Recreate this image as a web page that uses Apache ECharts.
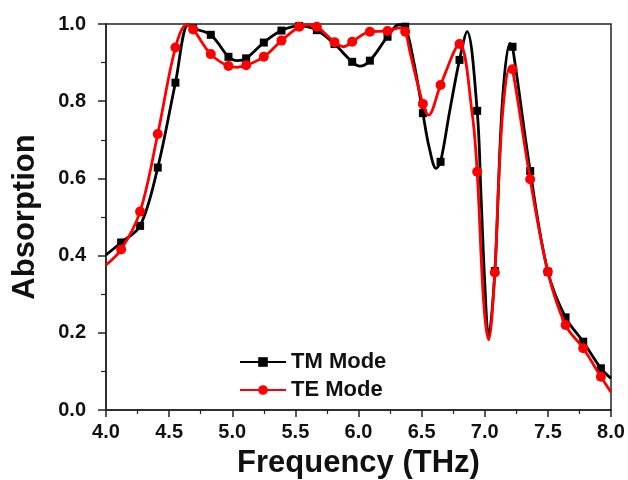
<!DOCTYPE html>
<html>
<head>
<meta charset="utf-8">
<script src="https://cdn.jsdelivr.net/npm/echarts@6/dist/echarts.min.js"></script>
<style>
html,body{margin:0;padding:0;background:#fff;}
#chart{width:628px;height:480px;}
</style>
</head>
<body>
<div id="chart"></div>
<script>
// Marker points
var markFreq = [4.12,4.27,4.41,4.55,4.69,4.83,4.97,5.11,5.25,5.39,5.53,5.67,5.81,5.95,6.09,6.23,6.37,6.51,6.65,6.80,6.94,7.08,7.22,7.36,7.50,7.64,7.78,7.92];
var tmMarkAbs = [0.434,0.477,0.628,0.848,0.989,0.972,0.915,0.911,0.952,0.983,0.995,0.984,0.948,0.902,0.905,0.967,0.993,0.769,0.643,0.907,0.775,0.360,0.941,0.619,0.358,0.240,0.177,0.108];
var teMarkAbs = [0.416,0.514,0.715,0.939,0.986,0.922,0.891,0.893,0.915,0.957,0.993,0.993,0.953,0.954,0.980,0.982,0.980,0.793,0.842,0.948,0.617,0.356,0.883,0.598,0.358,0.220,0.160,0.086];
// Additional curve points between markers
var tmCurveFreq = [4.00,4.65,5.04,6.01,6.32,6.44,6.56,6.615,6.72,6.86,6.97,7.00,7.03,7.14,7.20,8.00];
var tmCurveAbs  = [0.402,0.998,0.905,0.891,0.998,0.898,0.680,0.626,0.770,0.980,0.560,0.330,0.190,0.800,0.950,0.082];
var teCurveFreq = [4.00,4.64,5.04,5.60,5.88,6.33,6.41,6.555,6.90,6.99,7.03,7.11,7.15,7.20,8.00];
var teCurveAbs  = [0.376,0.998,0.888,0.998,0.941,0.990,0.924,0.764,0.769,0.285,0.182,0.590,0.800,0.889,0.046];
var xTicks = ['4.0','4.5','5.0','5.5','6.0','6.5','7.0','7.5','8.0'];
var yTicks = ['0.0','0.2','0.4','0.6','0.8','1.0'];

function build(markAbs, curveFreq, curveAbs) {
  var pts = [];
  for (var i = 0; i < markFreq.length; i++) pts.push({value:[markFreq[i], markAbs[i]], m:true});
  for (var j = 0; j < curveFreq.length; j++) pts.push({value:[curveFreq[j], curveAbs[j]], m:false});
  pts.sort(function(a,b){return a.value[0]-b.value[0];});
  return pts.map(function(p){
    return p.m ? {value:p.value} : {value:p.value, symbol:'none'};
  });
}

var chart = echarts.init(document.getElementById('chart'));
var font = 'Liberation Sans, Arial, sans-serif';
chart.setOption({
  animation:false,
  backgroundColor:'#fff',
  grid:{left:106,right:17,top:24,bottom:70,containLabel:false,outerBoundsMode:'none',
    show:true,borderColor:'#222',borderWidth:1.5,backgroundColor:'transparent'},
  legend:{
    orient:'vertical', left:234, top:346, itemGap:6, itemWidth:46, itemHeight:12,
    textStyle:{fontFamily:font,fontWeight:'bold',fontSize:22,color:'#111'},
    data:['TM Mode','TE Mode']
  },
  xAxis:{
    type:'value', min:4, max:8, interval:0.5,
    name:'Frequency (THz)', nameLocation:'middle', nameGap:38,
    nameTextStyle:{fontFamily:font,fontWeight:'bold',fontSize:31,color:'#111'},
    axisLine:{lineStyle:{color:'#222',width:1.5}},
    axisTick:{show:true,length:7,lineStyle:{color:'#222',width:1.5}},
    minorTick:{show:true,splitNumber:2,length:4,lineStyle:{color:'#222',width:1.2}},
    splitLine:{show:false},
    axisLabel:{margin:12,fontFamily:font,fontWeight:'bold',fontSize:20,color:'#111',
      formatter:function(v){var s=v.toFixed(1);return xTicks.indexOf(s)>=0?s:'';}}
  },
  yAxis:{
    type:'value', min:0, max:1, interval:0.2,
    name:'Absorption', nameLocation:'middle', nameGap:65,
    nameTextStyle:{fontFamily:font,fontWeight:'bold',fontSize:31,color:'#111'},
    axisLine:{show:true,lineStyle:{color:'#222',width:1.5}},
    axisTick:{show:true,length:8,lineStyle:{color:'#222',width:1.5}},
    minorTick:{show:true,splitNumber:2,length:5,lineStyle:{color:'#222',width:1.2}},
    splitLine:{show:false},
    axisLabel:{margin:20,fontFamily:font,fontWeight:'bold',fontSize:20,color:'#111',
      formatter:function(v){var s=v.toFixed(1);return yTicks.indexOf(s)>=0?s:'';}}
  },
  series:[
    {name:'TM Mode', type:'line', smooth:0.35, data:build(tmMarkAbs, tmCurveFreq, tmCurveAbs),
     symbol:'rect', symbolSize:8, showAllSymbol:true, z:2,
     lineStyle:{color:'#000',width:2.8}, itemStyle:{color:'#000'}},
    {name:'TE Mode', type:'line', smooth:0.35, data:build(teMarkAbs, teCurveFreq, teCurveAbs),
     symbol:'circle', symbolSize:10, showAllSymbol:true, z:3,
     lineStyle:{color:'#ff0000',width:2.8}, itemStyle:{color:'#ff0000'}}
  ]
});
</script>
</body>
</html>
